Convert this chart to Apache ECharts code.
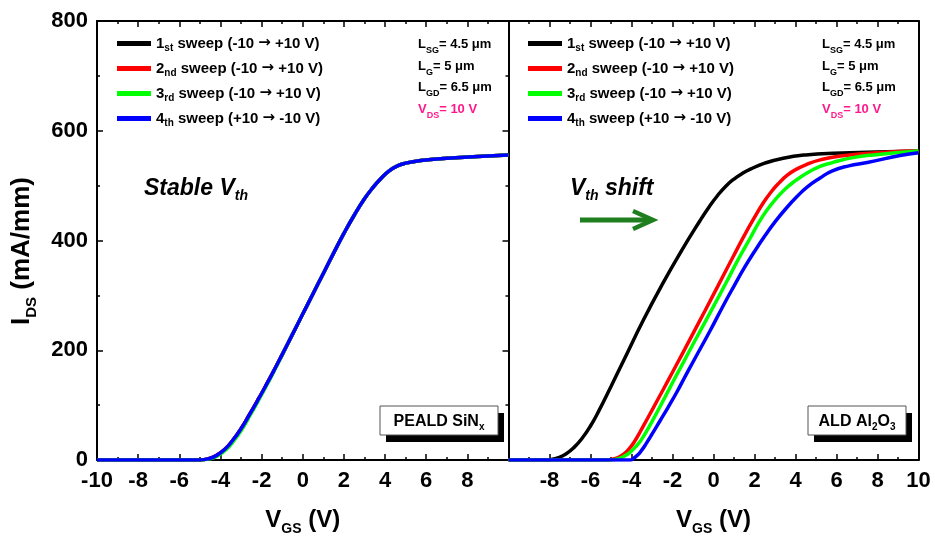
<!DOCTYPE html>
<html>
<head>
<meta charset="utf-8">
<script src="https://cdn.jsdelivr.net/npm/echarts@6/dist/echarts.min.js"></script>
<style>
  html, body { margin: 0; padding: 0; background: #fff; }
  #chart { width: 935px; height: 542px; }
</style>
</head>
<body>
<div id="chart"></div>
<script>
// sweep names (used as legend entries)
var sweepNames = ['sweep1', 'sweep2', 'sweep3', 'sweep4'];
var sweepLabels = [
    '{m|1}{s|st}{m| sweep (-10 }{a|\u2192}{m| +10 V)}',
    '{m|2}{s|nd}{m| sweep (-10 }{a|\u2192}{m| +10 V)}',
    '{m|3}{s|rd}{m| sweep (-10 }{a|\u2192}{m| +10 V)}',
    '{m|4}{s|th}{m| sweep (+10 }{a|\u2192}{m| -10 V)}'
];
var sweepColors = ['#000000', '#ff0000', '#00ff00', '#0000ff'];

// left panel: PEALD SiNx, all sweeps overlap
var leftV = [-10, -5.0, -4.6, -4.2, -3.8, -3.4, -3.0, -2.6, -2.2, -1.8, -1.4, -1.0, -0.5, 0, 0.5, 1.0, 1.5, 2.0, 2.5, 3.0, 3.4, 3.8, 4.2, 4.6, 5.0, 5.6, 7.0, 10];
var leftI = [0, 0, 2, 8, 19, 36, 57, 82, 108, 135, 163, 192, 229, 266, 303, 340, 377, 413, 446, 476, 496, 513, 527, 536, 541, 545, 550, 556];
var leftVGreen = [-10, -4.92, -4.52, -4.12, -3.72, -3.33, -2.94, -2.55, -2.16, -1.77, -1.38, -0.99, -0.5, 0, 0.5, 1.0, 1.5, 2.0, 2.5, 3.0, 3.4, 3.8, 4.2, 4.6, 5.0, 5.6, 7.0, 10];

// right panel: ALD Al2O3, Vth shifts between sweeps
var blackV = [-10, -8.2, -7.9, -7.6, -7.2, -6.8, -6.4, -6.0, -5.6, -5.0, -4.4, -3.42, -2.5, -1.55, -0.66, -0.2, 0.2, 0.6, 1.0, 1.4, 1.8, 2.5, 3.4, 4.5, 5.84, 10];
var blackI = [0, 0, 1, 4, 11, 23, 40, 62, 89, 134, 180, 255, 320, 382, 436, 462, 482, 499, 512, 522, 530, 541, 550, 556, 559, 563];
var redV = [-10, -5.3, -5.0, -4.7, -4.4, -4.1, -3.83, -3.6, -3.2, -2.69, -2.2, -1.8, -1.4, -0.95, -0.4, 0.2, 0.95, 1.5, 2.0, 2.4, 2.8, 3.2, 3.6, 4.0, 4.5, 5.2, 6.2, 8.4, 10];
var redI = [0, 0, 1, 4, 10, 21, 35, 50, 77, 112, 146, 174, 202, 234, 273, 316, 370, 409, 442, 467, 488, 505, 519, 529, 538, 547, 554, 561, 563];
var greenV = [-10, -5.0, -4.7, -4.4, -4.1, -3.8, -3.5, -3.0, -2.36, -1.9, -1.47, -1.0, -0.62, 0, 0.6, 1.2, 1.8, 2.2, 2.6, 3.0, 3.5, 4.0, 4.6, 5.2, 5.8, 6.8, 7.8, 10];
var greenI = [0, 0, 2, 6, 13, 24, 38, 70, 115, 148, 178, 211, 237, 280, 322, 365, 405, 432, 455, 474, 494, 509, 524, 535, 542, 551, 556, 563];
var blueV = [-10, -4.05, -3.9, -3.7, -3.5, -3.3, -3.0, -2.6, -2.2, -1.8, -1.4, -0.98, -0.16, 0.5, 1.0, 1.5, 2.0, 2.5, 3.0, 3.6, 4.1, 4.55, 5.2, 5.8, 6.6, 7.5, 9.1, 10];
var blueI = [0, 0, 3, 9, 18, 29, 47, 72, 97, 123, 151, 180, 236, 283, 317, 350, 380, 408, 434, 461, 481, 497, 514, 527, 536, 542, 555, 560];

var FONT = '"Liberation Sans", Arial, sans-serif';

function pairs(xs, ys) {
    return xs.map(function (x, i) { return [x, ys[i]]; });
}

var leftData = [pairs(leftV, leftI), pairs(leftV, leftI), pairs(leftVGreen, leftI), pairs(leftV, leftI)];
var rightData = [pairs(blackV, blackI), pairs(redV, redI), pairs(greenV, greenI), pairs(blueV, blueI)];

var titleRich = {
    m: { fontSize: 24, fontWeight: 'bold', fontFamily: FONT, color: '#000', lineHeight: 32 },
    s: { fontSize: 14, fontWeight: 'bold', fontFamily: FONT, color: '#000', lineHeight: 12, verticalAlign: 'bottom' }
};
var legendRich = {
    m: { fontSize: 15, fontWeight: 'bold', fontFamily: FONT, color: '#000', lineHeight: 20 },
    a: { fontSize: 15, fontWeight: 'bold', fontFamily: '"DejaVu Sans"', color: '#000', lineHeight: 20 },
    s: { fontSize: 10, fontWeight: 'bold', fontFamily: FONT, color: '#000', lineHeight: 8, verticalAlign: 'bottom' }
};
// raw graphic text uses zrender styles (fill instead of color)
var noteRich = {
    m: { fontSize: 13, fontWeight: 'bold', fontFamily: FONT, fill: '#000', lineHeight: 21.5 },
    s: { fontSize: 9, fontWeight: 'bold', fontFamily: FONT, fill: '#000', lineHeight: 9, verticalAlign: 'bottom' },
    pm: { fontSize: 13, fontWeight: 'bold', fontFamily: FONT, fill: '#ff1a8c', lineHeight: 21.5 },
    ps: { fontSize: 9, fontWeight: 'bold', fontFamily: FONT, fill: '#ff1a8c', lineHeight: 9, verticalAlign: 'bottom' }
};
var boxRich = {
    m: { fontSize: 16, fontWeight: 'bold', fontFamily: FONT, fill: '#000', lineHeight: 22 },
    s: { fontSize: 10, fontWeight: 'bold', fontFamily: FONT, fill: '#000', lineHeight: 8, verticalAlign: 'bottom' }
};
var italicRich = {
    m: { fontSize: 23, fontWeight: 'bold', fontStyle: 'italic', fontFamily: FONT, fill: '#000', lineHeight: 30 },
    s: { fontSize: 14, fontWeight: 'bold', fontStyle: 'italic', fontFamily: FONT, fill: '#000', lineHeight: 12, verticalAlign: 'bottom' }
};
var yTitleRich = {
    m: { fontSize: 26, fontWeight: 'bold', fontFamily: FONT, fill: '#000', lineHeight: 34 },
    s: { fontSize: 15, fontWeight: 'bold', fontFamily: FONT, fill: '#000', lineHeight: 12, verticalAlign: 'bottom' }
};

function xAxisFor(grid, hideMin, hideMax) {
    return {
        type: 'value', gridIndex: grid, position: 'bottom',
        min: -10, max: 10, interval: 2,
        axisLine: { show: true, onZero: false, lineStyle: { color: '#000', width: 2 } },
        axisTick: { show: true, inside: true, length: 6, lineStyle: { color: '#000', width: 1.5 } },
        minorTick: { show: true, splitNumber: 2, length: 3, lineStyle: { color: '#000', width: 1.5 } },
        splitLine: { show: false },
        axisLabel: {
            showMinLabel: !hideMin, showMaxLabel: !hideMax, margin: 10,
            fontSize: 22, fontWeight: 'bold', fontFamily: FONT, color: '#000'
        },
        name: '{m|V}{s|GS}{m| (V)}', nameLocation: 'middle', nameGap: 44,
        nameTextStyle: { rich: titleRich }
    };
}
function topAxisFor(grid) {
    return {
        type: 'value', gridIndex: grid, position: 'top',
        min: -10, max: 10, interval: 2,
        axisLine: { show: true, onZero: false, lineStyle: { color: '#000', width: 2 } },
        axisTick: { show: true, inside: true, length: 6, lineStyle: { color: '#000', width: 1.5 } },
        minorTick: { show: true, splitNumber: 2, length: 3, lineStyle: { color: '#000', width: 1.5 } },
        splitLine: { show: false },
        axisLabel: { show: false }
    };
}
function yAxisFor(grid, pos, ticks) {
    return {
        type: 'value', gridIndex: grid, position: pos,
        min: 0, max: 800, interval: 200,
        axisLine: { show: true, onZero: false, lineStyle: { color: '#000', width: 2 } },
        axisTick: { show: ticks, inside: true, length: 6, lineStyle: { color: '#000', width: 1.5 } },
        minorTick: { show: ticks, splitNumber: 2, length: 3, lineStyle: { color: '#000', width: 1.5 } },
        splitLine: { show: false },
        axisLabel: { show: false }
    };
}

var yMain = yAxisFor(0, 'left', true);
yMain.axisLabel = { show: true, margin: 9, fontSize: 22, fontWeight: 'bold', fontFamily: FONT, color: '#000' };

var series = [];
sweepNames.forEach(function (name, k) {
    series.push({
        name: name, type: 'line', xAxisIndex: 0, yAxisIndex: 0,
        data: leftData[k], showSymbol: false, smooth: 0.5,
        lineStyle: { color: sweepColors[k], width: 3.5 }, itemStyle: { color: sweepColors[k] },
        animation: false
    });
});
sweepNames.forEach(function (name, k) {
    series.push({
        name: name, type: 'line', xAxisIndex: 1, yAxisIndex: 2,
        data: rightData[k], showSymbol: false, smooth: 0.5,
        lineStyle: { color: sweepColors[k], width: 3.5 }, itemStyle: { color: sweepColors[k] },
        animation: false
    });
});

function legendAt(left) {
    return {
        orient: 'vertical', left: left, top: 28.5,
        data: sweepNames, icon: 'rect', itemWidth: 34, itemHeight: 5, itemGap: 5,
        formatter: function (name) { return sweepLabels[sweepNames.indexOf(name)]; },
        textStyle: { rich: legendRich, lineHeight: 25 },
        selectedMode: false
    };
}

function notes(x) {
    return {
        type: 'text', left: x, top: 38, silent: true,
        style: {
            text: '{m|L}{s|SG}{m|= 4.5 \u03bcm}\n{m|L}{s|G}{m|= 5 \u03bcm}\n{m|L}{s|GD}{m|= 6.5 \u03bcm}\n{pm|V}{ps|DS}{pm|= 10 V}',
            rich: noteRich
        }
    };
}

function box(x, y, w, h, text) {
    return {
        type: 'group', silent: true,
        children: [
            { type: 'rect', shape: { x: x + 6, y: y + 7, width: w, height: h }, style: { fill: '#000' } },
            { type: 'rect', shape: { x: x, y: y, width: w, height: h }, style: { fill: '#fff', stroke: '#555', lineWidth: 1 } },
            { type: 'text', x: x + w / 2, y: y + h / 2 + 1, style: { text: text, rich: boxRich, align: 'center', verticalAlign: 'middle' } }
        ]
    };
}

var chart = echarts.init(document.getElementById('chart'), null, { renderer: 'canvas' });
var option = {
    backgroundColor: '#fff',
    animation: false,
    grid: [
        { left: 97, top: 21, width: 411.5, height: 439 },
        { left: 508.5, top: 21, width: 410, height: 439 }
    ],
    xAxis: [xAxisFor(0, false, true), xAxisFor(1, true, false), topAxisFor(0), topAxisFor(1)],
    yAxis: [yMain, yAxisFor(0, 'right', true), yAxisFor(1, 'left', false), yAxisFor(1, 'right', false)],
    legend: [legendAt(112), legendAt(523)],
    series: series,
    graphic: [
        notes(418),
        notes(822),
        {
            type: 'text', x: 22, y: 251, rotation: Math.PI / 2, silent: true,
            style: { text: '{m|I}{s|DS}{m| (mA/mm)}', rich: yTitleRich, align: 'center', verticalAlign: 'middle' }
        },
        {
            type: 'text', left: 144, top: 177, silent: true,
            style: { text: '{m|Stable V}{s|th}', rich: italicRich }
        },
        {
            type: 'text', left: 570, top: 177, silent: true,
            style: { text: '{m|V}{s|th}{m| shift}', rich: italicRich }
        },
        {
            type: 'group', silent: true,
            children: [
                { type: 'line', shape: { x1: 580, y1: 220, x2: 652, y2: 220 }, style: { stroke: '#1f7f1f', lineWidth: 5 } },
                { type: 'polyline', shape: { points: [[633, 211], [653, 220], [633, 229]] }, style: { stroke: '#1f7f1f', lineWidth: 4.5, fill: null } }
            ]
        },
        box(380, 406, 118, 29, '{m|PEALD SiN}{s|x}'),
        box(808, 406, 98, 29, '{m|ALD Al}{s|2}{m|O}{s|3}')
    ]
};
chart.setOption(option);
</script>
</body>
</html>
